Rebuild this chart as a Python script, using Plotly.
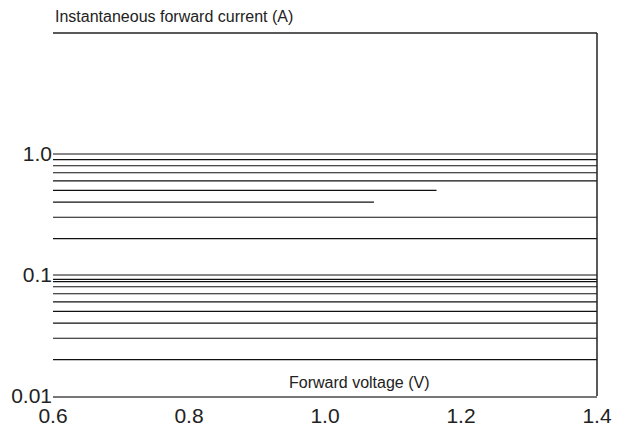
import plotly.graph_objects as go

# Horizontal level lines: instantaneous forward current (A) and the voltage where each ends
current_levels = [1.0, 0.9, 0.8, 0.7, 0.6, 0.5, 0.4, 0.3, 0.2,
                  0.1, 0.092, 0.088, 0.08, 0.07, 0.06, 0.05, 0.04, 0.03, 0.02]
end_voltages = [1.4, 1.4, 1.4, 1.4, 1.4, 1.164, 1.072, 1.4, 1.4,
                1.4, 1.4, 1.4, 1.4, 1.4, 1.4, 1.4, 1.4, 1.4, 1.4]
start_voltage = 0.6

x_tick_vals = [0.6, 0.8, 1.0, 1.2, 1.4]
x_tick_text = ["0.6", "0.8", "1.0", "1.2", "1.4"]
y_tick_vals = [0.01, 0.1, 1.0]
y_tick_text = ["0.01", "0.1", "1.0"]

FONT = "Liberation Sans, Arial, sans-serif"

fig = go.Figure()
for level, x_end in zip(current_levels, end_voltages):
    fig.add_trace(go.Scatter(
        x=[start_voltage, x_end], y=[level, level], mode="lines",
        line=dict(color="#111111", width=1.2), showlegend=False, hoverinfo="skip"))

fig.update_layout(
    width=617, height=431,
    margin=dict(l=53, r=20, t=33, b=35, autoexpand=False),
    paper_bgcolor="white", plot_bgcolor="white",
    font=dict(family=FONT, color="#222222"),
    xaxis=dict(range=[0.6, 1.4], tickvals=x_tick_vals, ticktext=x_tick_text,
               showgrid=False, zeroline=False, ticks="", showline=True,
               linecolor="#777777", linewidth=1.5, automargin=False,
               tickfont=dict(size=21, family=FONT, color="#222222")),
    yaxis=dict(type="log", range=[-2, 1], tickvals=y_tick_vals, ticktext=y_tick_text,
               showgrid=False, zeroline=False, ticks="", showline=False,
               ticklabelstandoff=0, automargin=False,
               tickfont=dict(size=21, family=FONT, color="#222222")),
    shapes=[
        dict(type="line", xref="paper", yref="paper", x0=0, x1=1, y0=1, y1=1,
             line=dict(color="#222222", width=1.3)),
        dict(type="line", xref="paper", yref="paper", x0=1, x1=1, y0=0, y1=1,
             line=dict(color="#222222", width=1.5)),
    ],
    annotations=[
        dict(text="Instantaneous forward current (A)", xref="paper", yref="paper",
             x=0, y=1, xanchor="left", yanchor="bottom", yshift=6, showarrow=False,
             font=dict(size=16, family=FONT, color="#222222")),
        dict(text="Forward voltage (V)", xref="paper", yref="paper",
             x=0.43, y=0, xanchor="left", yanchor="bottom", yshift=3, showarrow=False,
             font=dict(size=16, family=FONT, color="#222222")),
    ],
)

fig.write_html("out.html", config={"displayModeBar": False},
               post_script="document.body.style.margin='0px';")
